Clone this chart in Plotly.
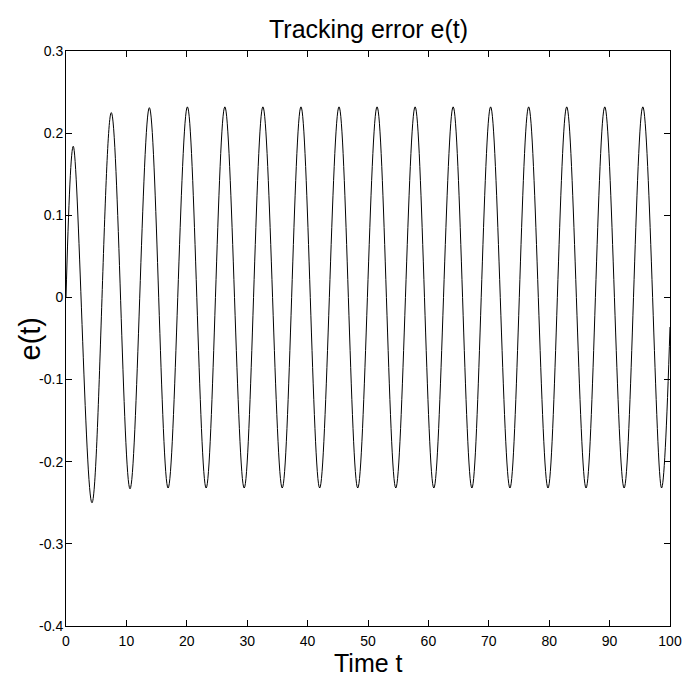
import plotly.graph_objects as go

# ---- data ----
start_t = [0.0]
start_e = [0.0]
peak_t = [1.2, 7.5, 13.8, 20.1, 26.3, 32.6, 38.9, 45.2, 51.5, 57.8, 64.1, 70.3, 76.6, 82.9, 89.2, 95.5]
peak_e = [0.184, 0.225, 0.231, 0.232, 0.232, 0.232, 0.232, 0.232, 0.232, 0.232, 0.232, 0.232, 0.232, 0.232, 0.232, 0.232]
trough_t = [4.3, 10.6, 16.9, 23.2, 29.5, 35.8, 42.0, 48.3, 54.6, 60.9, 67.2, 73.5, 79.8, 86.1, 92.4, 98.6]
trough_e = [-0.250, -0.233, -0.232, -0.232, -0.232, -0.232, -0.232, -0.232, -0.232, -0.232, -0.232, -0.232, -0.232, -0.232, -0.232, -0.232]
end_t = [100.0]
end_e = [-0.036]

x_tick_vals = [0, 10, 20, 30, 40, 50, 60, 70, 80, 90, 100]
x_tick_text = ["0", "10", "20", "30", "40", "50", "60", "70", "80", "90", "100"]
y_tick_vals = [-0.4, -0.3, -0.2, -0.1, 0, 0.1, 0.2, 0.3]
y_tick_text = ["-0.4", "-0.3", "-0.2", "-0.1", "0", "0.1", "0.2", "0.3"]

title_text = "Tracking error e(t)"
x_label = "Time t"
y_label = "e(t)"

# ---- build the series (extrema interleaved) ----
t = list(start_t)
e = list(start_e)
for pt, pe, tt, te in zip(peak_t, peak_e, trough_t, trough_e):
    t += [pt, tt]
    e += [pe, te]
t += end_t
e += end_e

TICK_FONT = dict(family="Liberation Sans, Arial, sans-serif", size=14, color="black")
LABEL_FONT = dict(family="Liberation Sans, Arial, sans-serif", size=25, color="black")

fig = go.Figure()
fig.add_trace(go.Scatter(
    x=t, y=e, mode="lines",
    line=dict(color="black", width=1, shape="spline", smoothing=1.0),
    showlegend=False, hoverinfo="x+y",
))

axis_common = dict(
    showline=True, linecolor="black", linewidth=1, mirror="ticks",
    ticks="inside", ticklen=6, tickwidth=1, tickcolor="black",
    showgrid=False, zeroline=False, tickfont=TICK_FONT, automargin=False,
)

fig.update_layout(
    width=684, height=676,
    margin=dict(l=66, r=14, t=51, b=50),
    paper_bgcolor="white", plot_bgcolor="white",
    xaxis=dict(range=[0, 100], tickmode="array", tickvals=x_tick_vals, ticktext=x_tick_text,
               ticklabelstandoff=2, **axis_common),
    yaxis=dict(range=[-0.4, 0.3], tickmode="array", tickvals=y_tick_vals, ticktext=y_tick_text,
               ticklabelstandoff=-1, **axis_common),
    annotations=[
        dict(text=title_text, xref="paper", yref="paper", x=0.5, y=1, yanchor="bottom",
             yshift=6, showarrow=False, font=LABEL_FONT),
        dict(text=x_label, xref="paper", yref="paper", x=0.5, y=0, yanchor="top",
             yshift=-21, showarrow=False, font=LABEL_FONT),
        dict(text=y_label, xref="paper", yref="paper", x=0, y=0.5, xanchor="right",
             xshift=-19, textangle=-90, showarrow=False,
             font=dict(family="Liberation Sans, Arial, sans-serif", size=29, color="black")),
    ],
)

fig.write_html("out.html")
